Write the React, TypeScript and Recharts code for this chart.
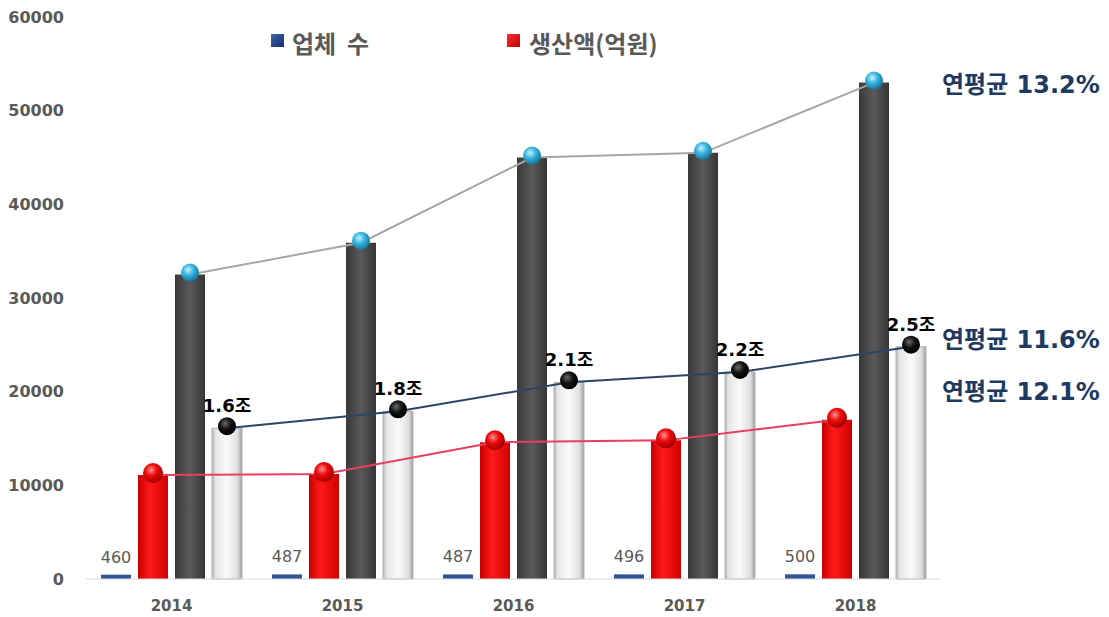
import React from "react";
import { ComposedChart, Bar, Line, XAxis, YAxis, LabelList } from "recharts";

const years = ["2014", "2015", "2016", "2017", "2018"];
const companies = [460, 487, 487, 496, 500];
const production = [11100, 11200, 14600, 14800, 17000];
const darkValues = [32500, 35900, 45000, 45500, 53000];
const lightValues = [16100, 17900, 21000, 22100, 24800];
const lightLabels = ["1.6조", "1.8조", "2.1조", "2.2조", "2.5조"];
const yTicks = [0, 10000, 20000, 30000, 40000, 50000, 60000];
const growthNotes = ["연평균 13.2%", "연평균 11.6%", "연평균 12.1%"];

const data = years.map((year, i) => ({
  year,
  companies: companies[i],
  production: production[i],
  dark: darkValues[i],
  light: lightValues[i],
  lightLabel: lightLabels[i],
}));

const tickFont = { fontSize: 16, fontWeight: 700, fill: "#595959", fontFamily: "DejaVu Sans" };
const korean = "'DejaVu Sans', 'Noto Sans CJK KR', sans-serif";

const makeDot = (fill: string, r: number) => (props: any) => {
  const { cx, cy, index } = props;
  if (cx == null || cy == null) return <g key={`d-${index}`} />;
  return <circle key={`d-${fill}-${index}`} cx={cx} cy={cy - 2} r={r} fill={fill} />;
};

export default function App() {
  return (
    <div style={{ position: "absolute", left: 0, top: 0, width: 1109, height: 617, background: "#fff" }}>
      <ComposedChart
        width={1109}
        height={617}
        data={data}
        margin={{ top: 17, right: 168, bottom: 8, left: 16 }}
        barSize={30}
        barGap={7}
      >
        <defs>
          <linearGradient id="gDark" x1="0" y1="0" x2="1" y2="0">
            <stop offset="0%" stopColor="#383838" />
            <stop offset="50%" stopColor="#5a5a5a" />
            <stop offset="100%" stopColor="#353535" />
          </linearGradient>
          <linearGradient id="gRed" x1="0" y1="0" x2="1" y2="0">
            <stop offset="0%" stopColor="#c80000" />
            <stop offset="40%" stopColor="#ff1a1a" />
            <stop offset="100%" stopColor="#d00000" />
          </linearGradient>
          <linearGradient id="gLight" x1="0" y1="0" x2="1" y2="0">
            <stop offset="0%" stopColor="#b5b5b5" />
            <stop offset="12%" stopColor="#e6e6e6" />
            <stop offset="50%" stopColor="#fbfbfb" />
            <stop offset="85%" stopColor="#dedede" />
            <stop offset="100%" stopColor="#9e9e9e" />
          </linearGradient>
          <radialGradient id="gCyan" cx="40%" cy="35%" r="65%">
            <stop offset="0%" stopColor="#c8f2ff" />
            <stop offset="45%" stopColor="#3bb8e2" />
            <stop offset="100%" stopColor="#16759c" />
          </radialGradient>
          <radialGradient id="gBlack" cx="40%" cy="35%" r="65%">
            <stop offset="0%" stopColor="#6a6a6a" />
            <stop offset="50%" stopColor="#111" />
            <stop offset="100%" stopColor="#000" />
          </radialGradient>
          <radialGradient id="gRedDot" cx="40%" cy="35%" r="65%">
            <stop offset="0%" stopColor="#ff9090" />
            <stop offset="45%" stopColor="#ee0a0a" />
            <stop offset="100%" stopColor="#a00000" />
          </radialGradient>
        </defs>
        <XAxis
          dataKey="year"
          axisLine={{ stroke: "#d9d9d9" }}
          tickLine={false}
          tickSize={0}
          tickMargin={21}
          height={30}
          tick={{ ...tickFont, fontSize: 15 }}
        />
        <XAxis xAxisId="red" dataKey="year" hide padding={{ left: -18.5, right: 18.5 }} />
        <XAxis xAxisId="dark" dataKey="year" hide padding={{ left: 18.5, right: -18.5 }} />
        <XAxis xAxisId="light" dataKey="year" hide padding={{ left: 55.5, right: -55.5 }} />
        <YAxis
          domain={[0, 60000]}
          ticks={yTicks}
          width={70}
          axisLine={false}
          tickLine={false}
          tickSize={0}
          tickMargin={22}
          tick={tickFont}
        />
        <Bar dataKey="companies" name="업체 수" fill="#2f5597" isAnimationActive={false}>
          <LabelList
            dataKey="companies"
            position="top"
            offset={12}
            fill="#595959"
            fontSize={16}
            fontFamily="DejaVu Sans"
          />
        </Bar>
        <Bar dataKey="production" name="생산액(억원)" fill="url(#gRed)" isAnimationActive={false} />
        <Bar dataKey="dark" fill="url(#gDark)" isAnimationActive={false} />
        <Bar dataKey="light" fill="url(#gLight)" stroke="#b3b3b3" strokeWidth={1} isAnimationActive={false} />
        <Line
          xAxisId="dark"
          dataKey="dark"
          stroke="#a6a6a6"
          strokeWidth={2}
          dot={makeDot("url(#gCyan)", 9)}
          activeDot={false}
          isAnimationActive={false}
        />
        <Line
          xAxisId="light"
          dataKey="light"
          stroke="#2b4566"
          strokeWidth={2}
          dot={makeDot("url(#gBlack)", 9)}
          activeDot={false}
          isAnimationActive={false}
        >
          <LabelList
            dataKey="lightLabel"
            position="top"
            offset={16}
            fill="#000"
            fontSize={18}
            fontWeight={700}
            fontFamily={korean}
          />
        </Line>
        <Line
          xAxisId="red"
          dataKey="production"
          stroke="#e8405a"
          strokeWidth={2}
          dot={makeDot("url(#gRedDot)", 10)}
          activeDot={false}
          isAnimationActive={false}
        />
      </ComposedChart>

      {/* legend */}
      <div style={{ position: "absolute", left: 271, top: 34, width: 13, height: 13, background: "linear-gradient(135deg,#3b64b0,#162f66)" }} />
      <div style={{ position: "absolute", left: 292, top: 29, fontSize: 24, lineHeight: "28px", fontWeight: 700, color: "#595959", fontFamily: "'Noto Sans CJK KR'", whiteSpace: "pre" }}>
        {"업체  수"}
      </div>
      <div style={{ position: "absolute", left: 507, top: 34, width: 13, height: 13, background: "linear-gradient(135deg,#ff3030,#c00000)" }} />
      <div style={{ position: "absolute", left: 529, top: 29, fontSize: 24, lineHeight: "28px", fontWeight: 700, color: "#595959", fontFamily: "'Noto Sans CJK KR'" }}>
        생산액(억원)
      </div>

      {/* growth notes */}
      {[85, 340, 392].map((y, i) => (
        <div
          key={growthNotes[i]}
          style={{ position: "absolute", left: 942, top: y - 15, fontSize: 24, lineHeight: "30px", fontWeight: 700, color: "#1f3a60", fontFamily: korean, whiteSpace: "nowrap" }}
        >
          {growthNotes[i]}
        </div>
      ))}
    </div>
  );
}
